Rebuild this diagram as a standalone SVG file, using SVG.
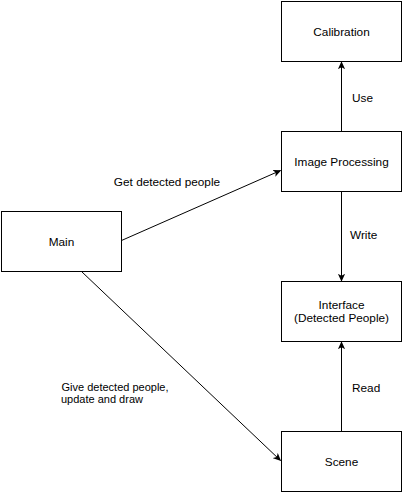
<svg xmlns="http://www.w3.org/2000/svg" width="403" height="493" viewBox="0 0 403 493">
<style>
.box{fill:#fff;stroke:#000;stroke-width:1}
.t{font-family:"Liberation Sans",Arial,sans-serif;font-size:11.8px;fill:#000;text-anchor:middle}
.lbl{font-family:"Liberation Sans",Arial,sans-serif;font-size:11.8px;fill:#000}
.sm{font-size:11px}
.c{fill:none;stroke:#000;stroke-width:1}
</style>
<defs>
<marker id="arr" viewBox="0 0 10 10" refX="9" refY="5" markerWidth="8" markerHeight="8" markerUnits="userSpaceOnUse" orient="auto">
<path d="M0,0.5 L10,5 L0,9.5 L2.5,5 Z" fill="#000" stroke="none"/>
</marker>
</defs>
<rect width="403" height="493" fill="#fff"/>
<g id="connectors">
<path class="c" d="M341.5,131.5 L341.5,62" marker-end="url(#arr)"/>
<path class="c" d="M341.5,191.5 L341.5,281" marker-end="url(#arr)"/>
<path class="c" d="M341.5,431.5 L341.5,342" marker-end="url(#arr)"/>
<path class="c" d="M121.5,240.5 L280.5,170.5" marker-end="url(#arr)"/>
<path class="c" d="M81.5,271.5 L280.5,460.5" marker-end="url(#arr)"/>
<text class="lbl" x="352" y="102">Use</text>
<text class="lbl" x="350" y="239">Write</text>
<text class="lbl" x="352" y="392">Read</text>
<text class="t" x="167" y="186">Get detected people</text>
<text class="lbl sm" x="61.5" y="391">Give detected people,</text>
<text class="lbl sm" x="61" y="403">update and draw</text>
</g>
<g id="calibration"><rect class="box" x="281.5" y="1.5" width="120" height="60"/><text class="t" x="341.5" y="36">Calibration</text></g>
<g id="image-processing"><rect class="box" x="281.5" y="131.5" width="120" height="60"/><text class="t" x="341.5" y="166">Image Processing</text></g>
<g id="main"><rect class="box" x="1.5" y="211.5" width="120" height="60"/><text class="t" x="61.5" y="246">Main</text></g>
<g id="interface"><rect class="box" x="281.5" y="281.5" width="120" height="60"/><text class="t" x="341.5" y="309">Interface</text><text class="t" x="341.5" y="322">(Detected People)</text></g>
<g id="scene"><rect class="box" x="281.5" y="431.5" width="120" height="60"/><text class="t" x="341.5" y="466">Scene</text></g>
</svg>
